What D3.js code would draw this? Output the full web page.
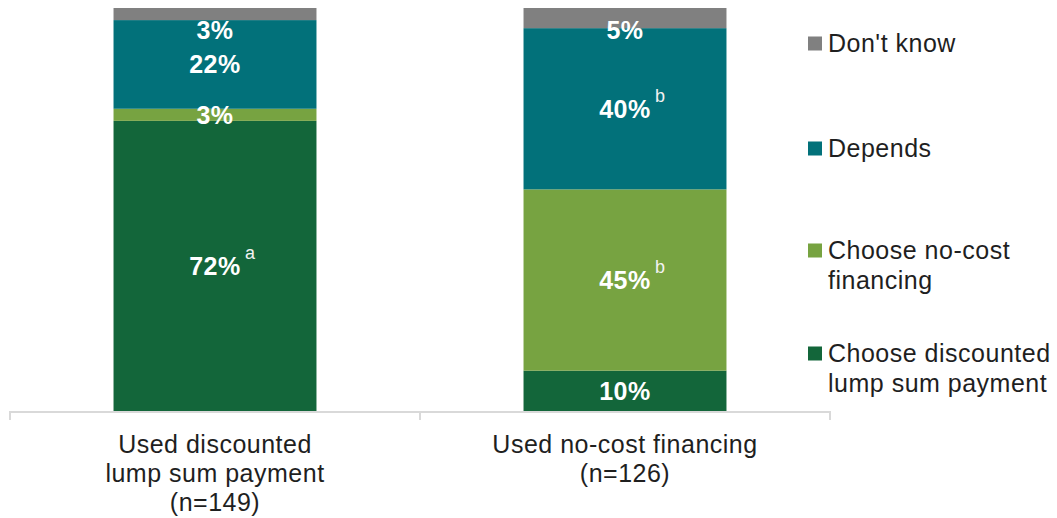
<!DOCTYPE html>
<html>
<head>
<meta charset="utf-8">
<script src="https://cdn.jsdelivr.net/npm/d3@7"></script>
<style>
  html, body { margin: 0; padding: 0; background: #fff; }
  svg { display: block; font-family: Arial, "Liberation Sans", sans-serif; }
</style>
</head>
<body>
<svg id="chart" width="1057" height="518"></svg>
<script>
// Groups along the x axis (each label broken into lines)
const categories = ["Used discounted lump sum payment (n=149)", "Used no-cost financing (n=126)"];
const categoryLines = [
  ["Used discounted", "lump sum payment", "(n=149)"],
  ["Used no-cost financing", "(n=126)"]
];

// Response series, stacked bottom to top
const seriesNames = ["Choose discounted lump sum payment", "Choose no-cost financing", "Depends", "Don't know"];
const seriesColors = ["#13663A", "#77A341", "#02717A", "#808080"];
const legendLines = [
  ["Choose discounted", "lump sum payment"],
  ["Choose no-cost", "financing"],
  ["Depends"],
  ["Don't know"]
];

// Percent values per series, one entry per category
const chooseDiscounted = [72, 10];
const chooseNoCost = [3, 45];
const depends = [22, 40];
const dontKnow = [3, 5];

// Significance markers per series, per category
const markDiscounted = ["a", ""];
const markNoCost = ["", "b"];
const markDepends = ["", "b"];
const markDontKnow = ["", ""];

const seriesValues = [chooseDiscounted, chooseNoCost, depends, dontKnow];
const seriesMarks = [markDiscounted, markNoCost, markDepends, markDontKnow];

const table = categories.map((c, i) => {
  const row = { category: c };
  seriesNames.forEach((s, j) => { row[s] = seriesValues[j][i]; });
  return row;
});

const svg = d3.select("#chart");
const fontSize = 25;
const spacing = 0.5;

const x = d3.scaleBand().domain(categories).range([10, 830]).paddingInner(0).paddingOuter(0);
const y = d3.scaleLinear().domain([0, 100]).range([411, 8]);
const barWidth = x.bandwidth() * 0.495;

const stack = d3.stack().keys(seriesNames);
const layers = stack(table);

// Stacked bars
const layerG = svg.append("g").selectAll("g")
  .data(layers)
  .join("g")
  .attr("fill", (d, i) => seriesColors[i]);

layerG.selectAll("rect")
  .data(d => d.map(p => ({ p, cat: p.data.category })))
  .join("rect")
  .attr("x", d => x(d.cat) + (x.bandwidth() - barWidth) / 2)
  .attr("width", barWidth)
  .attr("y", d => y(d.p[1]))
  .attr("height", d => y(d.p[0]) - y(d.p[1]));

// Category axis: baseline with dividers at group edges
const edges = [x.range()[0], ...categories.map(c => x(c) + x.bandwidth())];
svg.append("line")
  .attr("x1", edges[0]).attr("x2", edges[edges.length - 1])
  .attr("y1", y(0) + 1).attr("y2", y(0) + 1)
  .attr("stroke", "#d9d9d9").attr("stroke-width", 2);
svg.append("g").selectAll("line")
  .data(edges)
  .join("line")
  .attr("x1", d => d).attr("x2", d => d)
  .attr("y1", y(0)).attr("y2", y(0) + 9)
  .attr("stroke", "#d9d9d9").attr("stroke-width", 2);

// Category labels
categories.forEach((c, i) => {
  const t = svg.append("text")
    .attr("x", x(c) + x.bandwidth() / 2)
    .attr("y", 453)
    .attr("text-anchor", "middle")
    .attr("font-size", fontSize)
    .attr("letter-spacing", spacing)
    .attr("fill", "#1f1f1f");
  categoryLines[i].forEach((line, k) => {
    t.append("tspan")
      .attr("x", x(c) + x.bandwidth() / 2)
      .attr("dy", k === 0 ? 0 : 29)
      .text(line);
  });
});

// Value labels inside segments
layers.forEach((layer, j) => {
  layer.forEach((p, i) => {
    const cx = x(p.data.category) + x.bandwidth() / 2;
    const cy = Math.max((y(p[0]) + y(p[1])) / 2, 30);
    const v = seriesValues[j][i];
    svg.append("text")
      .attr("x", cx)
      .attr("y", cy)
      .attr("dy", "0.35em")
      .attr("text-anchor", "middle")
      .attr("font-size", fontSize)
      .attr("letter-spacing", spacing)
      .attr("font-weight", "bold")
      .attr("fill", "#fff")
      .text(v + "%");
    const m = seriesMarks[j][i];
    if (m) {
      svg.append("text")
        .attr("x", cx + 30)
        .attr("y", cy - 7)
        .attr("font-size", 18)
        .attr("fill", "#f2f2f2")
        .text(m);
    }
  });
});

// Legend, top entry first
const legendCenters = [43, 148, 250, 353];
const legendOrder = [3, 2, 1, 0];
legendOrder.forEach((s, k) => {
  const cy = legendCenters[k];
  svg.append("rect")
    .attr("x", 808).attr("y", cy - 6.5)
    .attr("width", 14).attr("height", 14)
    .attr("fill", seriesColors[s]);
  const t = svg.append("text")
    .attr("x", 828)
    .attr("y", cy)
    .attr("font-size", fontSize)
    .attr("letter-spacing", spacing)
    .attr("fill", "#1f1f1f");
  legendLines[s].forEach((line, n) => {
    t.append("tspan").attr("x", 828).attr("dy", n === 0 ? "0.35em" : 30).text(line);
  });
});
</script>
</body>
</html>
